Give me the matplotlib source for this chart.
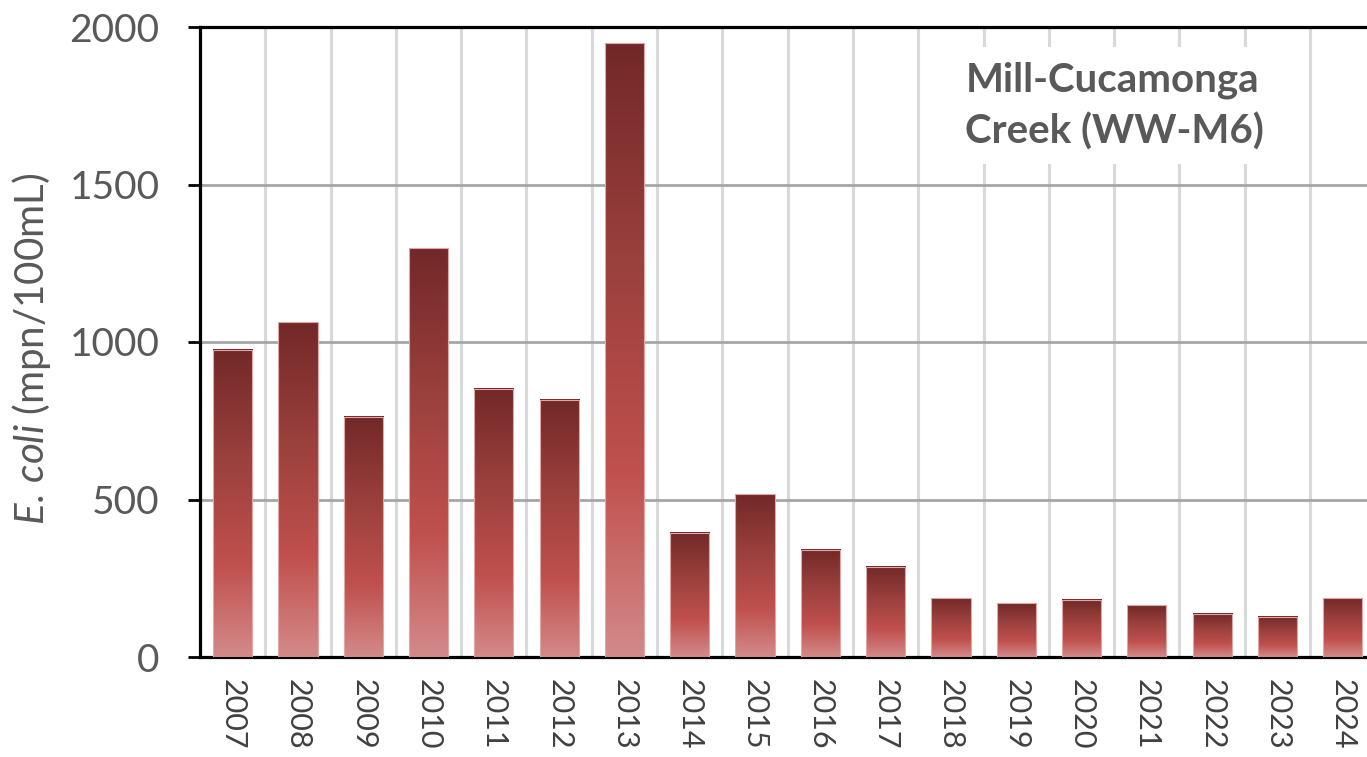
import matplotlib
matplotlib.use('Agg')
import matplotlib.pyplot as plt
import numpy as np
from matplotlib.colors import LinearSegmentedColormap
from matplotlib.patches import Rectangle

years = [str(y) for y in range(2007, 2025)]
values = [975, 1063, 762, 1298, 851, 816, 1949, 394, 517, 340, 286, 187, 171, 181, 165, 137, 127, 187]
yticks = [0, 500, 1000, 1500, 2000]
title = "Mill-Cucamonga\nCreek (WW-M6)"

plt.rcParams['font.family'] = ['Lato', 'DejaVu Sans']
plt.rcParams['mathtext.fontset'] = 'custom'
plt.rcParams['mathtext.it'] = 'Lato:italic'
plt.rcParams['mathtext.rm'] = 'Lato'

W, H = 1367, 757
fig = plt.figure(figsize=(W / 100, H / 100), dpi=100)
n = len(years)
ax = fig.add_axes([200 / W, 100 / H, (n * 65.3) / W, 630 / H])

cmap = LinearSegmentedColormap.from_list(
    'bar', [(0.0, '#d38a8a'), (0.3, '#c0504d'), (0.65, '#9a403d'), (1.0, '#722828')])
grad = np.linspace(0, 1, 256).reshape(-1, 1)

bw = 0.6
x = np.arange(n)
for xi, v in zip(x, values):
    ax.imshow(grad, extent=[xi - bw / 2, xi + bw / 2, 0, v], aspect='auto',
              cmap=cmap, origin='lower', zorder=3, interpolation='bilinear')
    ax.add_patch(Rectangle((xi - bw / 2, 0), bw, v, facecolor='none',
                           edgecolor='#e3a6a6', lw=0.8, zorder=4))

ax.set_xlim(-0.5, n - 0.5)
ax.set_ylim(0, 2000)
ax.set_aspect('auto')

# gridlines
for b in np.arange(0.5, n - 0.5, 1.0):
    ax.axvline(b, color='#d9d9d9', lw=2.2, zorder=1)
for t in yticks[1:-1]:
    ax.axhline(t, color='#a6a6a6', lw=2.0, zorder=1.5)

for s in ['left', 'bottom', 'top']:
    ax.spines[s].set_linewidth(2.3)
    ax.spines[s].set_color('black')
ax.spines['right'].set_visible(False)
ax.spines['top'].set_zorder(5)

ax.set_yticks(yticks)
ax.set_yticklabels([str(t) for t in yticks])
ax.tick_params(axis='y', length=9, width=2, direction='out', color='black',
               labelsize=28, labelcolor='#595959', pad=20)
ax.set_xticks(x)
ax.set_xticklabels(years, rotation=-90)
ax.tick_params(axis='x', length=0, labelsize=22, labelcolor='#404040', pad=16)

ax.set_ylabel(r'$\mathit{E.}\,\mathit{coli}$ (mpn/100mL)', fontsize=29, color='#595959')
ax.yaxis.set_label_coords(-0.125, 0.49)

ax.text(13.51, 1749, title, ha='center', va='center', multialignment='left',
        fontsize=29, fontweight='bold', color='#595959', linespacing=1.45,
        zorder=6, bbox=dict(facecolor='white', edgecolor='none', pad=10))

fig.savefig('out.png', dpi=100)
